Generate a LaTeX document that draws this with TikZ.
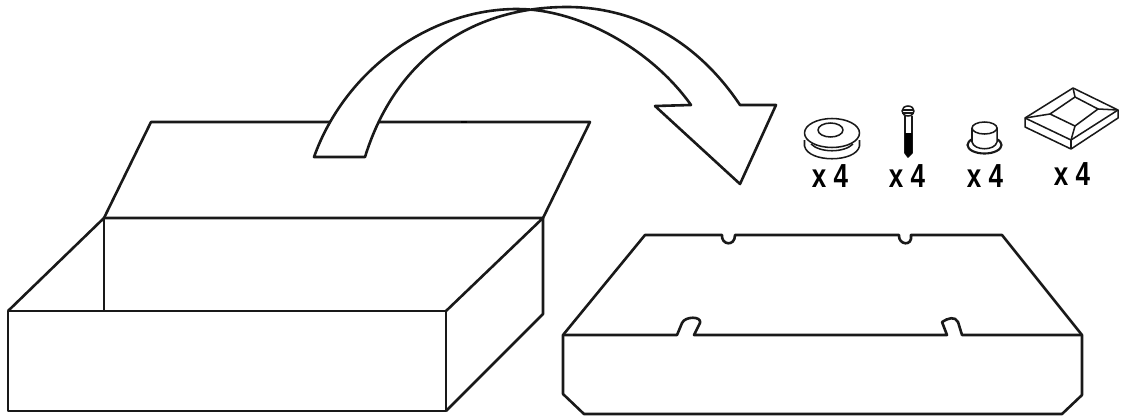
\documentclass[tikz,border=0pt]{standalone}
\usepackage{fontspec}
\setmainfont{Liberation Sans}
\tikzset{
  heavy/.style={draw=black!90,line width=1.95pt,line join=round},
  light/.style={draw=black!90,line width=1.15pt,line join=round},
  countlabel/.style={font=\fontsize{25}{27}\bfseries\selectfont,xscale=.78,inner sep=0pt}
}
\begin{document}
\begin{tikzpicture}[x=0.75pt,y=-0.75pt]
        \useasboundingbox (0,0) rectangle (1123,418);
        % open box and lid
        \draw[heavy] (104,218) -- (151,122) -- (590,122) -- (543,218);
        \fill (461,121) rectangle (467,123);
        \draw[heavy] (8,311) -- (104,218) -- (543,218) -- (446,311);
        \draw[heavy] (104,218) -- (104,311);
        \draw[heavy] (543,218) -- (543,314) -- (446,411);
        \draw[heavy] (8,311) rectangle (446,411);
        % curved arrow
        \filldraw[heavy,fill=white] (314,157) .. controls (345,70) and (430,9) .. (517,9)
          .. controls (580,9) and (652,50) .. (691,105) -- (655,106) -- (740,184) -- (776,105) -- (740,105)
          .. controls (700,45) and (640,7) .. (567,7)
          .. controls (470,7) and (395,60) .. (365,157) -- cycle;
        % tray
        \draw[heavy] (563,335) -- (645,235) -- (722,235)
          .. controls (721,245) and (735,247) .. (735,235) -- (899,235)
          .. controls (898,245) and (913,247) .. (911,235) -- (1002,235) -- (1082,335)
          -- (1082,395) -- (1062,414) -- (584,414) -- (563,394) -- cycle;
        \draw[heavy] (563,335) -- (677,335) -- (682,323)
          .. controls (685,316) and (702,316) .. (700,323) -- (694,335) -- (947,335) -- (942,322)
          .. controls (948,318) and (955,316) .. (958,322) -- (962,335) -- (1082,335);
        % grommet
        \draw[light] (804.5,140) -- (804.5,146) .. controls (808,163) and (856,163) .. (859.5,146) -- (859.5,140);
        \filldraw[light,fill=white] (832,133) ellipse (27.5 and 14.5);
        \draw[light] (811,144) .. controls (820,153) and (844,153) .. (853,144);
        \draw[light] (830.5,130) ellipse (12.5 and 7);
        % screw
        \draw[light] (905,116) -- (905,153) -- (908,157) -- (912,153) -- (912,116);
        \fill (905,133) -- (912,133) -- (912,153) -- (908,157) -- (905,153) -- cycle;
        \filldraw[light,fill=white] (908,111) ellipse (6 and 5);
        \draw[light] (902,110) -- (914,110);
        \draw[light] (902,113) -- (914,113);
        % bushing
        \filldraw[line width=1.6pt,draw=black!90,fill=white] (984.5,145) ellipse (17 and 8.5);
        \filldraw[light,fill=white] (972,128) -- (972,142) .. controls (974,151) and (995,151) .. (997,142) -- (997,128) -- cycle;
        \filldraw[light,fill=white] (984.5,128) ellipse (12.5 and 6);
        % square cap
        \filldraw[light,fill=white] (1025,118) -- (1073,88) -- (1118,110) -- (1118,118) -- (1071,149) -- (1025,127) -- cycle;
        \draw[light] (1025,118) -- (1071,140) -- (1118,110);
        \draw[light] (1071,140) -- (1071,149);
        \draw[light] (1050,114) -- (1075,97) -- (1098,109) -- (1075,126) -- cycle;
        \draw[light] (1025,118) -- (1050,114);
        \draw[light] (1073,88) -- (1075,97);
        \draw[light] (1118,110) -- (1098,109);
        \draw[light] (1071,140) -- (1075,126);
        % counts
        \node[countlabel] (countgrommet) at (830,176) {x 4};
        \node[countlabel] (countscrew) at (907,176) {x 4};
        \node[countlabel] (countbushing) at (985,176) {x 4};
        \node[countlabel] (countcap) at (1072,174) {x 4};
      \end{tikzpicture}
\end{document}
